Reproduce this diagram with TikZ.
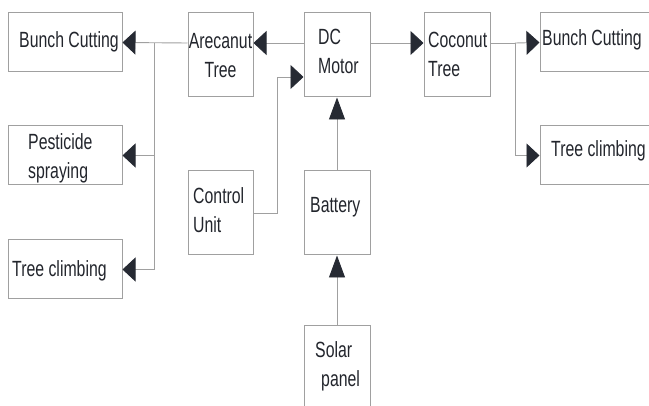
\documentclass[tikz,border=0pt]{standalone}
\usepackage{fontspec}
\usepackage{xcolor}
\usetikzlibrary{arrows.meta}
\newfontfamily\narrowsf{Liberation Sans}[FakeStretch=0.72]
\definecolor{agriLine}{HTML}{A0A0A0}
\definecolor{agriDark}{HTML}{262A33}
\definecolor{agriText}{HTML}{22252C}

\begin{document}
\begin{tikzpicture}[
    x=1pt, y=-1pt,
    box/.style={draw=agriLine, line width=1pt, inner sep=0pt,
                minimum width=#1, minimum height=84pt},
    box/.default=66pt,
    wide/.style={box=114pt, minimum height=59pt},
    arrow/.style={draw=agriLine, line width=0.9pt,
                  -{Triangle[length=13pt, width=24pt, color=agriDark]}},
    uparrow/.style={draw=agriLine, line width=0.9pt,
                  -{Triangle[length=22pt, width=16pt, color=agriDark]}},
    wire/.style={draw=agriLine, line width=0.9pt},
    txt/.style={inner sep=0pt, anchor=base west, text=agriText,
                font=\narrowsf\fontsize{22}{29.5}\selectfont, align=#1},
    txt/.default=left
]
    \useasboundingbox (0,0) rectangle (649,406);
    \clip (0,0) rectangle (649,406);

    % --- Boxes ---
    \node[wide] (bunchL) at (65,42.5) {};
    \node[wide] (spray) at (65,155.5) {};
    \node[wide] (climbL) at (65,269.5) {};
    \node[box=65pt] (areca) at (220.5,55) {};
    \node[box] (motor) at (337,55) {};
    \node[box] (coco) at (457,55) {};
    \node[box=65pt] (ctrl) at (220.5,213) {};
    \node[box] (batt) at (337,213) {};
    \node[box] (solar) at (337,368) {};
    \node[wide] (bunchR) at (597,42.5) {};
    \node[wide] (climbR) at (597,155.5) {};

    % --- Labels (base = last line) ---
    \node[txt] (tBunchL) at (19,48) {Bunch Cutting};
    \node[txt] (tSpray) at (28,179) {Pesticide\\spraying};
    \node[txt] (tClimbL) at (12,277) {Tree climbing};
    \node[txt=center, anchor=base] (tAreca) at (220.5,78) {Arecanut\\Tree};
    \node[txt] (tMotor) at (318,74) {DC\\Motor};
    \node[txt] (tCoco) at (428,77) {Coconut\\Tree};
    \node[txt] (tCtrl) at (193,233) {Control\\Unit};
    \node[txt] (tBatt) at (310,213) {Battery};
    \node[txt] (tSolar) at (315,387) {Solar\\\hspace*{6pt}panel};
    \node[txt] (tBunchR) at (542,46) {Bunch Cutting};
    \node[txt] (tClimbR) at (551,157) {Tree climbing};

    % --- Left branch ---
    \coordinate (jLeft) at (154,43);
    \draw[arrow] ([yshift=12pt]motor.west) -- ([yshift=12pt]areca.east);
    \draw[arrow] ([yshift=12pt]areca.west) -- (bunchL.east);
    \draw[arrow] (jLeft) |- (spray.east);
    \draw[arrow] (jLeft) |- (climbL.east);

    % --- Right branch ---
    \coordinate (jRight) at (515,43);
    \draw[arrow] ([yshift=12pt]motor.east) -- ([yshift=12pt]coco.west);
    \draw[wire] ([yshift=12pt]coco.east) -- (jRight);
    \draw[arrow] (jRight) -- (bunchR.west);
    \draw[arrow] (jRight) |- (climbR.west);

    % --- Supply ---
    \draw[arrow] (ctrl.east) -- ++(24,0) |- ([yshift=-22pt]motor.west);
    \draw[uparrow] (batt.north) -- (motor.south);
    \draw[uparrow] (solar.north) -- (batt.south);
\end{tikzpicture}
\end{document}
